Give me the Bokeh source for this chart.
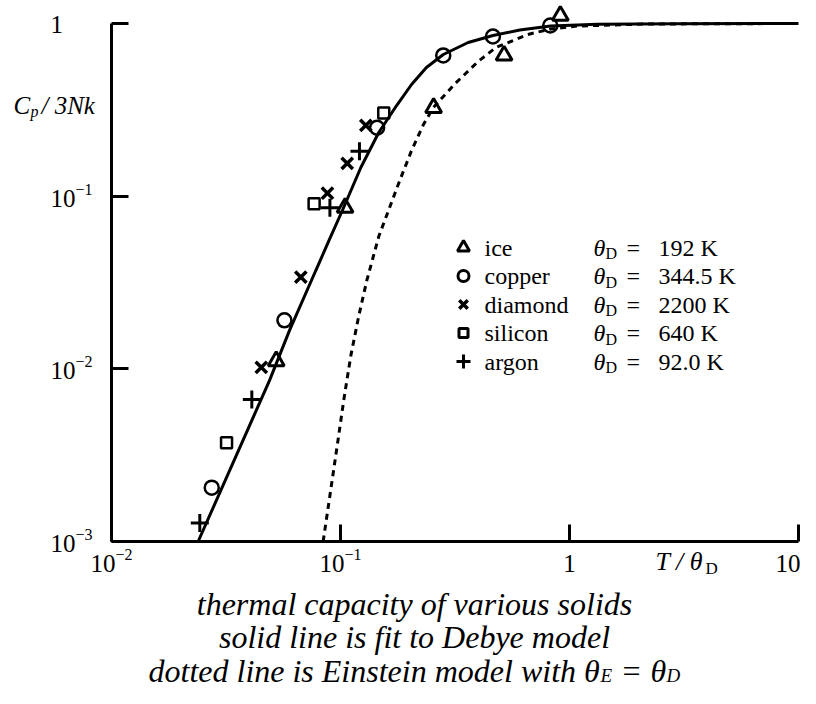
import math
from bokeh.plotting import figure
from bokeh.models import Label, Range1d, FixedTicker
from bokeh.embed import file_html
from bokeh.resources import INLINE

# ---------------- data ----------------
ice_x = [0.0524, 0.1047, 0.255, 0.518, 0.912]
ice_y = [0.0111, 0.0857, 0.325, 0.653, 1.11]

copper_x = [0.0274, 0.0569, 0.1445, 0.281, 0.463, 0.824]
copper_y = [0.00205, 0.0191, 0.249, 0.653, 0.841, 0.974]

diamond_x = [0.0451, 0.0671, 0.0877, 0.107, 0.129]
diamond_y = [0.0102, 0.0340, 0.104, 0.155, 0.257]

silicon_x = [0.0318, 0.0767, 0.1545]
silicon_y = [0.00373, 0.0904, 0.303]

argon_x = [0.0243, 0.0410, 0.0899, 0.121]
argon_y = [0.00128, 0.00665, 0.0857, 0.182]

# Debye fit (solid line)
debye_x = [0.0239, 0.0490, 0.0599, 0.0780, 0.0891, 0.1019, 0.1227, 0.1469,
           0.1758, 0.2043, 0.2372, 0.2812, 0.361, 0.4634, 0.607, 0.8275,
           1.323, 2.94, 10.0]
debye_y = [0.00100, 0.00857, 0.0167, 0.0371, 0.0554, 0.0826, 0.1466, 0.2338,
           0.335, 0.4433, 0.556, 0.6614, 0.776, 0.852, 0.917, 0.967,
           0.989, 0.997, 1.0]

# Einstein model (dotted line)
einstein_x = [0.0840, 0.0910, 0.0975, 0.1036, 0.1110, 0.1203, 0.1303, 0.1469,
              0.1794, 0.2043, 0.2303, 0.2545, 0.3170, 0.399, 0.4775, 0.6574,
              0.8275, 1.083, 2.18, 10.0]
einstein_y = [0.00100, 0.00206, 0.00385, 0.00674, 0.01196, 0.0204, 0.0325, 0.0584,
              0.1185, 0.1839, 0.2602, 0.3264, 0.4494, 0.6025, 0.7262, 0.8637,
              0.929, 0.967, 0.9934, 1.0]

x_ticks = [0.01, 0.1, 1, 10]
y_ticks = [0.001, 0.01, 0.1, 1]
x_tick_exp = ["−2", "−1", None, None]
y_tick_exp = ["−3", "−2", "−1", None]

materials = ["ice", "copper", "diamond", "silicon", "argon"]
theta_values = ["192 K", "344.5 K", "2200 K", "640 K", "92.0 K"]
title_lines = ["thermal capacity of various solids",
               "solid line is fit to Debye model"]

# ---------------- layout (picture pixel geometry) ----------------
FONT = "Liberation Serif"
W, H = 800, 688
PX_LEFT, PX_RIGHT = 111, 798     # x = 1e-2 ... 1e1
PY_TOP, PY_BOT = 23, 541         # y = 1 ... 1e-3


def X(px):
    return 10 ** (-2 + 3 * (px - PX_LEFT) / (PX_RIGHT - PX_LEFT))


def Y(py):
    return 10 ** (-3 * (py - PY_TOP) / (PY_BOT - PY_TOP))


def PXof(x):
    return PX_LEFT + (PX_RIGHT - PX_LEFT) * (math.log10(x) + 2) / 3


def PYof(y):
    return PY_TOP - (PY_BOT - PY_TOP) * math.log10(y) / 3


# the frame fills the canvas; axes are pinned at x=1e-2 and y=1e-3
p = figure(width=W, height=H, x_axis_type="log", y_axis_type="log",
           x_range=Range1d(X(0), X(W)), y_range=Range1d(Y(H), Y(0)),
           output_backend="svg", toolbar_location=None, min_border=0)
p.outline_line_color = None
p.xgrid.visible = False
p.ygrid.visible = False
p.background_fill_color = "white"
p.border_fill_color = "white"

for ax, ticks in ((p.xaxis[0], x_ticks), (p.yaxis[0], y_ticks)):
    ax.ticker = FixedTicker(ticks=ticks)
    ax.axis_line_width = 3
    ax.axis_line_color = "black"
    ax.major_tick_line_width = 3
    ax.major_tick_line_color = "black"
    ax.major_tick_in = 17
    ax.major_tick_out = 0
    ax.minor_tick_line_color = None
    ax.major_label_overrides = {t: "" for t in ticks}
    ax.major_label_text_font_size = "0px"
p.xaxis[0].fixed_location = y_ticks[0]
p.xaxis[0].bounds = (x_ticks[0], x_ticks[-1])
p.yaxis[0].fixed_location = x_ticks[0]
p.yaxis[0].bounds = (y_ticks[0], y_ticks[-1])

# ---------------- curves and points ----------------
p.line(debye_x, debye_y, line_width=3, line_color="black")
p.line(einstein_x, einstein_y, line_width=3, line_color="black", line_dash="6 5")

p.scatter(ice_x, ice_y, marker="triangle", size=16, line_width=3,
          line_color="black", fill_color=None)
p.scatter(copper_x, copper_y, marker="circle", size=14, line_width=2.5,
          line_color="black", fill_color=None)
p.scatter(diamond_x, diamond_y, marker="x", size=16, line_width=3.5,
          line_color="black")
p.scatter(silicon_x, silicon_y, marker="square", size=11, line_width=2.5,
          line_color="black", fill_color=None)
p.scatter(argon_x, argon_y, marker="cross", size=18, line_width=3,
          line_color="black")


def lab(text, px, py, size, italic=False, align="left"):
    p.add_layout(Label(x=X(px), y=Y(py), text=text, text_font=FONT,
                       text_font_size=f"{size}px",
                       text_font_style="italic" if italic else "normal",
                       text_align=align, text_baseline="middle",
                       text_color="black"))


TICK_FS, SUP_FS = 25, 16

# y tick labels (left aligned, as in the reference)
for t, e in zip(y_ticks, y_tick_exp):
    py = PYof(t)
    if e is None:
        lab("1", 50, py + 1, TICK_FS)
    else:
        lab("10", 50, py + 2, TICK_FS)
        lab(e, 50 + TICK_FS, py - 7, SUP_FS)

# x tick labels
XL_Y = 563
for t, e in zip(x_ticks, x_tick_exp):
    px = PXof(t)
    if e is None:
        if t == x_ticks[-1]:
            lab("10", 800, XL_Y, TICK_FS, align="right")
        else:
            lab("1", px, XL_Y, TICK_FS, align="center")
    else:
        left = px - 21
        lab("10", left, XL_Y, TICK_FS)
        lab(e, left + TICK_FS, XL_Y - 9, SUP_FS)

# axis titles
lab("T / θ", 655, XL_Y - 2, 26, italic=True)
lab("D", 705, XL_Y + 5, 17)
lab("C", 13, 105, 25, italic=True)
lab("p", 30, 111, 16, italic=True)
lab("/ 3Nk", 41, 105, 25, italic=True)

# legend
LEG_Y0, LEG_DY = 247, 28.5
LEG_MX, LEG_TX, LEG_TH, LEG_EQ, LEG_V = 463, 484, 593, 626, 658
leg_markers = [("triangle", 12, 3), ("circle", 11, 3), ("x", 12, 3.5),
               ("square", 9, 3), ("cross", 14, 3)]
for i, (name, val) in enumerate(zip(materials, theta_values)):
    py = LEG_Y0 + i * LEG_DY
    mk, sz, lw = leg_markers[i]
    p.scatter([X(LEG_MX)], [Y(py)], marker=mk, size=sz, line_width=lw,
              line_color="black", fill_color=None)
    lab(name, LEG_TX, py, 24)
    lab("θ", LEG_TH, py, 24, italic=True)
    lab("D", LEG_TH + 12, py + 6, 16)
    lab("=", LEG_EQ, py, 24)
    lab(val, LEG_V, py, 24)

# captions
TITLE_FS, TITLE_SUB = 32, 19
CAP_Y0, CAP_DY = 603, 33.5
for k, line in enumerate(title_lines):
    lab(line, 414, CAP_Y0 + CAP_DY * k, TITLE_FS, italic=True, align="center")
y3 = CAP_Y0 + 2 * CAP_DY
x3 = 148
lab("dotted line is Einstein model with θ", x3, y3, TITLE_FS, italic=True)
lab("E", x3 + 452, y3 + 5, TITLE_SUB, italic=True)
lab("=", x3 + 472, y3, TITLE_FS, italic=True)
lab("θ", x3 + 502, y3, TITLE_FS, italic=True)
lab("D", x3 + 518, y3 + 5, TITLE_SUB, italic=True)

open("out.html", "w").write(file_html(p, INLINE))
